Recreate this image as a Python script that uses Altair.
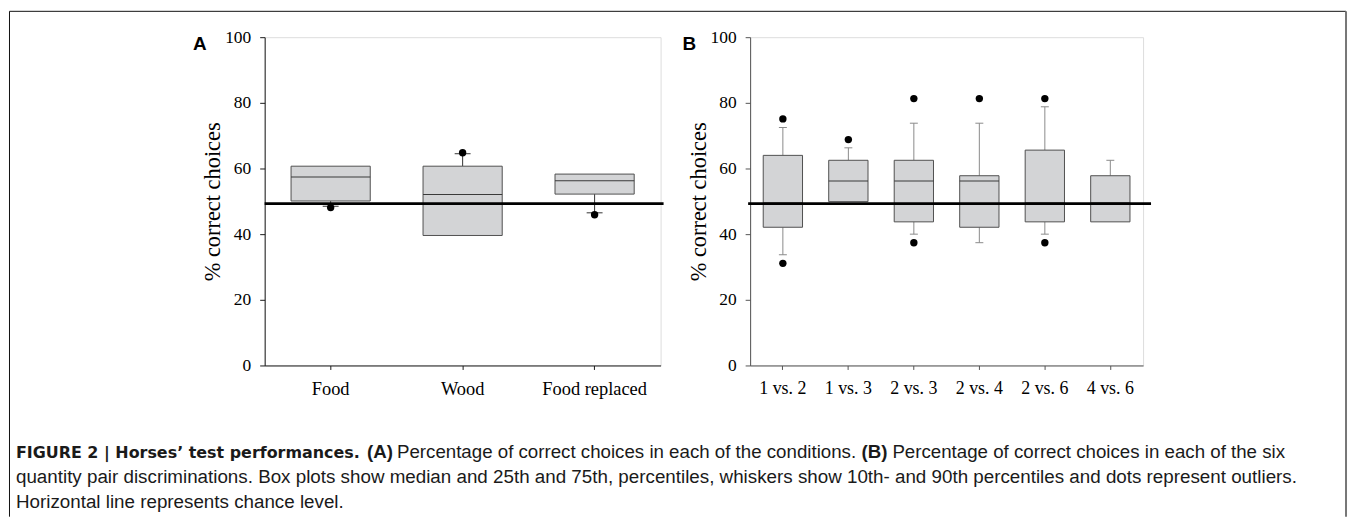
import altair as alt
import pandas as pd

# ---------------- data: panel A (conditions) ----------------
a_cats = ["Food", "Wood", "Food replaced"]
a_q1 = [50.1, 39.6, 52.2]
a_med = [57.4, 52.1, 56.3]
a_q3 = [60.7, 60.7, 58.3]
a_wlo = [48.5, None, 46.5]
a_whi = [None, 64.5, None]
a_out_cat = ["Food", "Wood", "Food replaced"]
a_out_val = [48.1, 64.8, 45.9]

# ---------------- data: panel B (quantity pairs) ----------------
b_cats = ["1 vs. 2", "1 vs. 3", "2 vs. 3", "2 vs. 4", "2 vs. 6", "4 vs. 6"]
b_q1 = [42.1, 49.9, 43.75, 42.1, 43.75, 43.75]
b_med = [49.5, 56.2, 56.2, 56.2, 49.5, 49.5]
b_q3 = [64.0, 62.5, 62.5, 57.8, 65.6, 57.8]
b_wlo = [33.7, None, 40.0, 37.4, 40.0, None]
b_whi = [72.5, 66.3, 73.8, 73.8, 78.8, 62.5]
b_out_cat = ["1 vs. 2", "1 vs. 2", "1 vs. 3", "2 vs. 3", "2 vs. 3", "2 vs. 4", "2 vs. 6", "2 vs. 6"]
b_out_val = [75.1, 31.1, 68.8, 81.3, 37.4, 81.3, 81.3, 37.4]

chance_level = 49.3
y_ticks = [0, 20, 40, 60, 80, 100]

SERIF = "Liberation Serif"
SANS = "Liberation Sans"
H = 330
ONE = pd.DataFrame({"k": [0]})


def panel(cats, q1, med, q3, wlo, whi, oc, ov, width, cap, axis_color,
          whisk_color, letter, letter_x, line_x0, line_x1, xlab_size):
    box = pd.DataFrame({"cat": cats, "q1": q1, "med": med, "q3": q3})
    lo = pd.DataFrame({"cat": cats, "q1": q1, "w": wlo}).dropna()
    hi = pd.DataFrame({"cat": cats, "q3": q3, "w": whi}).dropna()
    caps = pd.concat([lo[["cat", "w"]], hi[["cat", "w"]]])
    out = pd.DataFrame({"cat": oc, "v": ov})
    chance = pd.DataFrame({"c": [chance_level]})

    xaxis = alt.Axis(title=None, labelFont=SERIF, labelFontSize=xlab_size,
                     labelColor="black", labelAngle=0, labelPadding=10,
                     tickSize=4, tickColor=axis_color, domainColor=axis_color,
                     grid=False)
    yaxis = alt.Axis(values=y_ticks, title="% correct choices",
                     titleFont=SERIF, titleFontSize=22.5,
                     titleFontWeight="normal", titleColor="black",
                     titleX=-40, titleY=H / 2, labelFont=SERIF,
                     labelFontSize=17.5, labelColor="black", labelPadding=9,
                     tickSize=5, tickColor=axis_color,
                     domainColor=axis_color, grid=False)
    xs = alt.Scale(domain=cats, paddingInner=0, paddingOuter=0)
    ys = alt.Scale(domain=[0, 100], nice=False)

    def X():
        return alt.X("cat:N", sort=cats, scale=xs, axis=xaxis)

    def Y(f):
        return alt.Y(f, scale=ys, axis=yaxis)

    band = (1.0 * width / len(cats)) * 0.6

    w_lo = alt.Chart(lo).mark_rule(color=whisk_color, strokeWidth=1).encode(
        x=X(), y=Y("w:Q"), y2="q1:Q")
    w_hi = alt.Chart(hi).mark_rule(color=whisk_color, strokeWidth=1).encode(
        x=X(), y=Y("q3:Q"), y2="w:Q")
    w_cap = alt.Chart(caps).mark_tick(color=whisk_color, thickness=1,
                                      size=cap, opacity=1).encode(
        x=X(), y=Y("w:Q"))
    boxes = alt.Chart(box).mark_bar(
        width={"band": 0.6}, fill="#d3d4d6", stroke="#505050",
        strokeWidth=1).encode(x=X(), y=Y("q1:Q"), y2="q3:Q")
    meds = alt.Chart(box).mark_tick(color="#3a3a3a", thickness=1,
                                    size=band, opacity=1).encode(
        x=X(), y=Y("med:Q"))
    line = alt.Chart(chance).mark_rule(color="black", strokeWidth=2.6).encode(
        y=Y("c:Q"), x=alt.value(line_x0), x2=alt.value(line_x1))
    dots = alt.Chart(out).mark_circle(color="black", size=55,
                                      opacity=1).encode(
        x=X(), y=Y("v:Q"))
    let = alt.Chart(ONE).mark_text(
        text=letter, font=SANS, fontSize=19, fontWeight="bold",
        color="black", align="left", baseline="alphabetic").encode(
        x=alt.value(letter_x), y=alt.value(13))
    return [w_lo, w_hi, w_cap, boxes, meds, line, dots, let]


A_layers = panel(a_cats, a_q1, a_med, a_q3, a_wlo, a_whi, a_out_cat,
                 a_out_val, 398, 16, "#1a1a1a", "#333333", "A", -72, 0, 401,
                 18.5)
B_layers = panel(b_cats, b_q1, b_med, b_q3, b_wlo, b_whi, b_out_cat,
                 b_out_val, 395, 8, "#555555", "#8a8a8a", "B", -68, -2, 403,
                 18)

# ---------------- frame and caption (drawn relative to panel A) ----------------
OX, OY = 265, 37  # panel A origin on the page


def rule(x, y, x2=None, y2=None, color="#222222", sw=1):
    enc = {"x": alt.value(x - OX), "y": alt.value(y - OY)}
    if x2 is not None:
        enc["x2"] = alt.value(x2 - OX)
    if y2 is not None:
        enc["y2"] = alt.value(y2 - OY)
    return alt.Chart(ONE).mark_rule(color=color, strokeWidth=sw).encode(**enc)


frame = [
    rule(8.5, 11, x2=1352, color="#111111"),
    rule(8.5, 11, y2=519, color="#111111"),
    rule(1352, 11, y2=519, color="#777777", sw=2),
]

# (text, x, baseline y, font, weight, size)
caption_segments = [
    ("FIGURE 2 | Horses\u2019 test performances.", 15, 460, "DejaVu Sans", "bold", 16.0),
    ("(A)", 368, 460, SANS, "bold", 18.8),
    ("Percentage of correct choices in each of the conditions.", 398, 460, SANS, "normal", 18.8),
    ("(B)", 865, 460, SANS, "bold", 18.8),
    ("Percentage of correct choices in each of the six", 896, 460, SANS, "normal", 18.8),
    ("quantity pair discriminations. Box plots show median and 25th and 75th, "
     "percentiles, whiskers show 10th- and 90th percentiles and dots represent "
     "outliers.", 15, 485, SANS, "normal", 18.9),
    ("Horizontal line represents chance level.", 15, 510, SANS, "normal", 18.9),
]
caption = [
    alt.Chart(ONE).mark_text(
        text=t, font=f, fontSize=s, fontWeight=wt, color="#1a1a1a",
        align="left", baseline="alphabetic").encode(
        x=alt.value(x - OX), y=alt.value(y - OY))
    for (t, x, y, f, wt, s) in caption_segments
]

A = alt.layer(*(A_layers + frame + caption)).properties(width=398, height=H)
B = alt.layer(*B_layers).properties(width=395, height=H)

chart = alt.hconcat(A, B, spacing=90, bounds="flush").properties(
    padding={"left": 0, "top": 0, "right": 0, "bottom": 0}
).configure_view(stroke=None).configure(background="white")

chart.save("out.html", embed_options={"renderer": "svg", "actions": False})
